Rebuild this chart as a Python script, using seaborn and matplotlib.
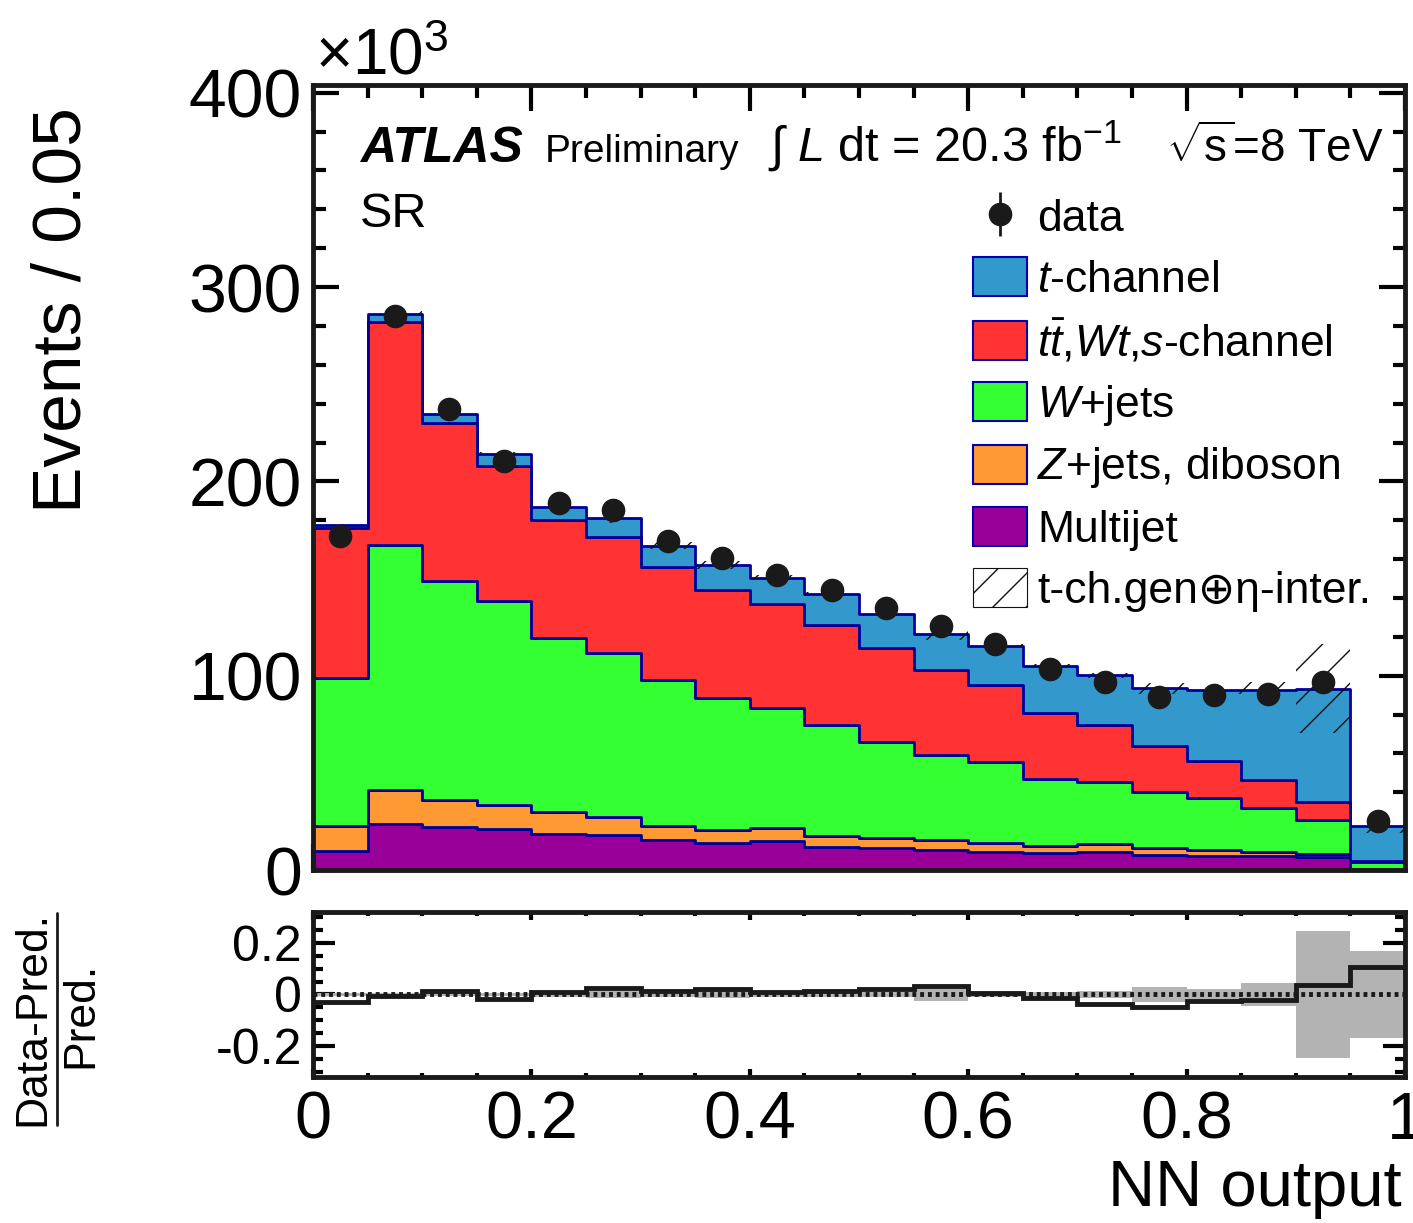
import numpy as np
import pandas as pd
import seaborn as sns
import matplotlib.pyplot as plt
from matplotlib.patches import Patch
from matplotlib.lines import Line2D
from matplotlib.ticker import MultipleLocator, FuncFormatter

# NN output binning: 20 bins of width 0.05
bin_edges = np.linspace(0, 1, 21)

# events per bin (x10^3)
multijet = [10.0, 23.8, 22.4, 21.2, 18.4, 17.9, 15.5, 13.7, 15.1, 12.0,
            11.5, 10.3, 9.4, 8.6, 9.1, 7.7, 7.4, 7.2, 6.9, 0.2]
zjets = [12.7, 17.2, 13.6, 12.5, 11.4, 9.4, 7.1, 7.1, 6.3, 5.6,
         5.1, 5.1, 4.6, 3.7, 4.1, 3.4, 2.9, 2.2, 1.3, 0.3]
wjets = [76.0, 126.5, 113.0, 104.8, 89.7, 84.2, 75.0, 67.5, 62.0, 56.9,
         49.4, 43.6, 41.7, 34.8, 32.2, 29.1, 26.6, 22.6, 17.8, 3.5]
top_bkg = [77.3, 114.5, 81.2, 69.5, 60.5, 60.0, 58.4, 55.7, 53.7, 51.8,
           48.3, 43.8, 39.4, 33.9, 29.1, 23.7, 19.1, 14.5, 9.0, 0.8]
tchan = [1.5, 4.4, 4.3, 6.0, 7.0, 9.5, 11.0, 13.0, 13.4, 15.7,
         17.7, 18.7, 20.4, 24.0, 25.8, 29.6, 36.5, 46.0, 58.3, 17.8]
data = [172.0, 285.0, 237.5, 210.3, 189.0, 185.4, 169.2, 160.4, 151.7, 144.1,
        134.9, 125.5, 116.1, 103.6, 96.7, 89.1, 90.0, 90.5, 96.8, 25.0]
# relative uncertainty (t-ch. generator + eta interpolation)
unc_rel = [0.004, 0.004, 0.005, 0.006, 0.01, 0.012, 0.01, 0.012, 0.008, 0.008,
           0.01, 0.026, 0.008, 0.01, 0.013, 0.03, 0.02, 0.045, 0.245, 0.167]

names = ["t-channel", "top", "W+jets", "Z+jets", "Multijet"]
labels = [r"$t$-channel", r"$t\bar{t}$,$Wt$,$s$-channel", r"$W$+jets",
          r"$Z$+jets, diboson", "Multijet"]
colors = ["#3399cc", "#ff3333", "#33ff33", "#ff9933", "#990099"]
series = [tchan, top_bkg, wjets, zjets, multijet]

sns.set_theme(style="ticks")
plt.rcParams["font.family"] = ["Liberation Sans", "DejaVu Sans"]
plt.rcParams["mathtext.fontset"] = "custom"
plt.rcParams["mathtext.rm"] = "Liberation Sans"
plt.rcParams["mathtext.it"] = "Liberation Sans:italic"
plt.rcParams["mathtext.bf"] = "Liberation Sans:bold"
plt.rcParams["axes.unicode_minus"] = False
plt.rcParams["hatch.linewidth"] = 1.0
for key in ["text.color", "axes.labelcolor", "xtick.color", "ytick.color", "axes.edgecolor"]:
    plt.rcParams[key] = "black"

centers = 0.5 * (bin_edges[:-1] + bin_edges[1:])
df = pd.concat([pd.DataFrame({"nn": centers, "events": s, "process": n})
                for n, s in zip(names, series)], ignore_index=True)

fig = plt.figure(figsize=(14.13, 12.23), dpi=100)
ax = fig.add_axes([0.2215, 0.2886, 0.7728, 0.6419])
axr = fig.add_axes([0.2215, 0.1194, 0.7728, 0.1349])

# stacked backgrounds (first hue level ends up on top)
sns.histplot(data=df, x="nn", weights="events", hue="process", hue_order=names,
             multiple="stack", bins=list(bin_edges), element="step", fill=True,
             palette=dict(zip(names, colors)), alpha=1, edgecolor="#000099",
             linewidth=2, legend=False, ax=ax)

total = np.sum(np.array(series), axis=0)
unc = total * np.array(unc_rel)
ax.fill_between(bin_edges, np.append(total - unc, total[-1] - unc[-1]),
                np.append(total + unc, total[-1] + unc[-1]), step="post",
                facecolor="none", edgecolor="#111111", hatch="/", linewidth=0)

data_arr = np.array(data)
dh = ax.errorbar(centers, data_arr, yerr=np.sqrt(data_arr * 1e3) / 1e3, fmt="o",
                 color="k", ms=16, elinewidth=2, capsize=0, zorder=5)

ax.set_xlim(0, 1)
ax.set_ylim(0, 404)
ax.set_xlabel("")
ax.set_ylabel("")
ax.xaxis.set_major_locator(MultipleLocator(0.2))
ax.xaxis.set_minor_locator(MultipleLocator(0.05))
ax.yaxis.set_major_locator(MultipleLocator(100))
ax.yaxis.set_minor_locator(MultipleLocator(20))
ax.tick_params(which="both", direction="in", top=True, right=True, width=3,
               labelbottom=False)
ax.tick_params(which="major", length=19)
ax.tick_params(which="minor", length=9)
ax.tick_params(axis="y", labelsize=49, pad=8)
ax.yaxis.set_major_formatter(FuncFormatter(lambda v, p: "%g" % v))

# legend
handles = [dh] + [Patch(facecolor=c, edgecolor="#0000aa", linewidth=1.5) for c in colors]
handles.append(Patch(facecolor="white", edgecolor="#111111", hatch="/", linewidth=0.8))
leg_labels = ["data"] + labels + ["t-ch.gen\u2295\u03b7-inter."]
ax.legend(handles, leg_labels, loc="upper left", bbox_to_anchor=(0.604, 0.858),
          frameon=False, fontsize=32, handlelength=1.23, handleheight=0.97,
          handletextpad=0.22, labelspacing=0.38, borderpad=0, borderaxespad=0)

# labels on the plot
ax.text(0.043, 0.902, "ATLAS", transform=ax.transAxes, fontsize=36,
        fontweight="bold", fontstyle="italic", va="baseline")
ax.text(0.2125, 0.902, "Preliminary", transform=ax.transAxes, fontsize=28, va="baseline")
ax.text(0.4167, 0.902, r"$\int$ $L$ dt = 20.3 fb$^{-1}$", transform=ax.transAxes,
        fontsize=35, va="baseline")
ax.text(0.781, 0.902, r"$\sqrt{\mathrm{s}}$=8 TeV", transform=ax.transAxes,
        fontsize=33, va="baseline")
ax.text(0.043, 0.8195, "SR", transform=ax.transAxes, fontsize=35, va="baseline")
fig.text(0.2229, 0.9387, r"$\times$10$^{3}$", fontsize=46, va="baseline")

for sp in ax.spines.values():
    sp.set_linewidth(3.5)
    sp.set_color("k")

# ratio panel
ratio = (data_arr - total) / total
rel = np.array(unc_rel)
axr.fill_between(bin_edges, np.append(-rel, -rel[-1]), np.append(rel, rel[-1]),
                 step="post", color="#b3b3b3", linewidth=0)
axr.axhline(0, color="k", lw=3.5, ls=(0, (0.8, 0.8)))
axr.stairs(ratio, bin_edges, color="k", lw=3.5, baseline=None)
axr.set_xlim(0, 1)
axr.set_ylim(-0.32, 0.32)
axr.xaxis.set_major_locator(MultipleLocator(0.2))
axr.xaxis.set_minor_locator(MultipleLocator(0.05))
axr.yaxis.set_major_locator(MultipleLocator(0.2))
axr.yaxis.set_minor_locator(MultipleLocator(0.05))
axr.tick_params(which="both", direction="in", top=True, right=True, width=3)
axr.tick_params(axis="y", which="major", length=16, labelsize=36, pad=8)
axr.tick_params(axis="y", which="minor", length=7)
axr.tick_params(axis="x", which="major", length=6, labelsize=48, pad=10)
axr.tick_params(axis="x", which="minor", length=3)
axr.xaxis.set_major_formatter(FuncFormatter(lambda v, p: "%g" % v))
axr.yaxis.set_major_formatter(FuncFormatter(lambda v, p: "%g" % round(v, 2)))
for sp in axr.spines.values():
    sp.set_linewidth(3.5)
    sp.set_color("k")

# axis titles
fig.text(0.0439, 0.9125, "Events / 0.05", rotation=90, ha="center", va="top", fontsize=50)
fig.text(0.9922, 0.0135, "NN output", ha="right", va="baseline", fontsize=47)
fig.text(0.0234, 0.1676, "Data-Pred.", rotation=90, ha="center", va="center", fontsize=32)
fig.text(0.0573, 0.170, "Pred.", rotation=90, ha="center", va="center", fontsize=32)
fig.add_artist(Line2D([0.0403, 0.0403], [1 - 913 / 1223, 1 - 1125 / 1223],
                      transform=fig.transFigure, color="k", lw=2))

fig.savefig("out.png", dpi=100)
